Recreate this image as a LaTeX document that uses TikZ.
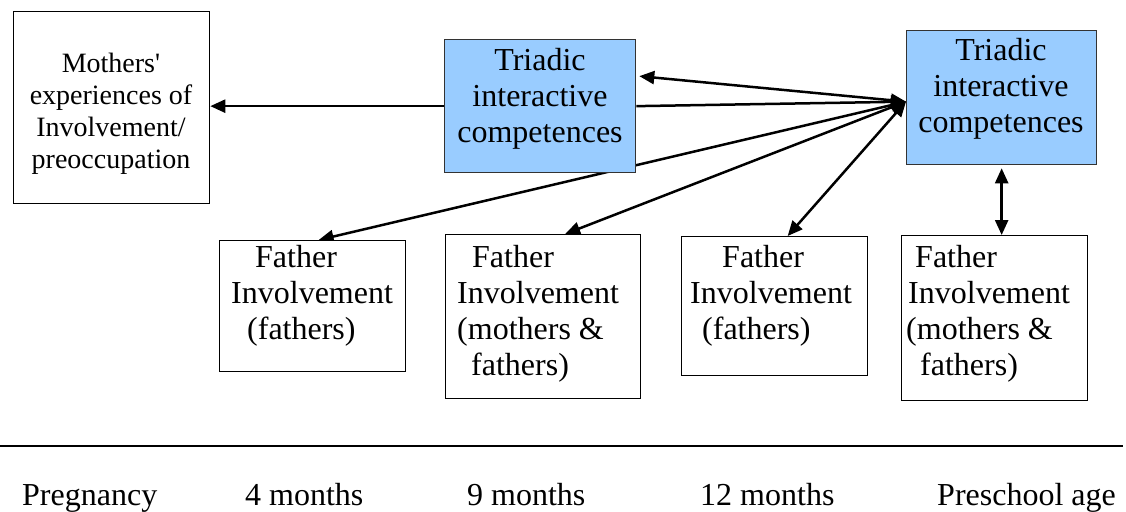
\documentclass[tikz,border=0pt]{standalone}
\usepackage{fontspec}
\setmainfont{Liberation Serif}[Ligatures=TeX]
\newfontfamily\diagfont{Liberation Serif}
\usetikzlibrary{arrows.meta}
\definecolor{triblue}{HTML}{99CCFF}
\pgfdeclarelayer{background}
\pgfsetlayers{background,main}
\tikzset{
  box/.style={draw=black, line width=1.3pt, fill=white, anchor=north west, inner sep=0pt},
  tribox/.style={box, draw=black!80, fill=triblue},
  txt/.style={inner sep=0pt, font=\diagfont\fontsize{32}{36}\selectfont},
  conn/.style={line width=2.5pt, -{Triangle[length=15pt,width=13pt]}},
  conn2/.style={line width=2.5pt, {Triangle[length=15pt,width=13pt]}-{Triangle[length=15pt,width=13pt]}}
}
\begin{document}
\begin{tikzpicture}[x=1pt,y=-1pt]
  \useasboundingbox (0,0) rectangle (1126,511);

  \node[box, minimum width=196pt, minimum height=192pt] (moth) at (13,11) {};
  \node[tribox, minimum width=191pt, minimum height=133pt] (tri1) at (444,39) {};
  \node[tribox, minimum width=190pt, minimum height=134pt] (tri2) at (906,30) {};
  \node[box, minimum width=186pt, minimum height=131pt] (f1) at (219,240) {};
  \node[box, minimum width=195pt, minimum height=164pt] (f2) at (445,234) {};
  \node[box, minimum width=186pt, minimum height=139pt] (f3) at (681,236) {};
  \node[box, minimum width=186pt, minimum height=165pt] (f4) at (901,235) {};

  \node[txt, anchor=north, align=center, font=\diagfont\fontsize{28}{32}\selectfont] (mothtxt) at (111,53)
    {Mothers\textquotesingle\\experiences of\\Involvement/\\preoccupation};
  \node[txt, anchor=north, align=center] (tri1txt) at (540,48) {Triadic\\interactive\\competences};
  \node[txt, anchor=north, align=center] (tri2txt) at (1001,38) {Triadic\\interactive\\competences};
  \node[txt, anchor=north west, align=left] (f1txt) at (231,245)
    {\hspace*{24pt}Father\\Involvement\\\hspace*{16pt}(fathers)};
  \node[txt, anchor=north west, align=left] (f2txt) at (457,245)
    {\hspace*{15pt}Father\\Involvement\\(mothers \&\\\hspace*{14pt}fathers)};
  \node[txt, anchor=north west, align=left] (f3txt) at (690,245)
    {\hspace*{32pt}Father\\Involvement\\\hspace*{12pt}(fathers)};
  \node[txt, anchor=north west, align=left] (f4txt) at (906,245)
    {\hspace*{9pt}Father\\\hspace*{2pt}Involvement\\(mothers \&\\\hspace*{14pt}fathers)};

  \coordinate (hub) at ([yshift=-4pt]tri2.west);
  \begin{pgfonlayer}{background}
    \draw[conn] (tri1.west) -- (tri1.west -| moth.east);
    \draw[conn] (tri1.east) -- (hub);
    \draw[conn2] ([shift={(3pt,30pt)}]tri1.east) -- (hub);
    \draw[conn2] ([xshift=6pt]f1.north) -- (hub);
    \draw[conn2] ([xshift=22pt]f2.north) -- (hub);
    \draw[conn2] ([xshift=13pt]f3.north) -- (hub);
    \draw[conn2] ([yshift=-3pt]tri2.south) -- (tri2.south |- f4.north);
  \end{pgfonlayer}

  \draw[line width=2pt] (0,446) -- (1123,446);
  \node[txt, anchor=base west] (t1) at (22,505) {Pregnancy};
  \node[txt, anchor=base west] (t2) at (245,505) {4 months};
  \node[txt, anchor=base west] (t3) at (467,505) {9 months};
  \node[txt, anchor=base west] (t4) at (700,505) {12 months};
  \node[txt, anchor=base west] (t5) at (937,505) {Preschool age};
\end{tikzpicture}
\end{document}
